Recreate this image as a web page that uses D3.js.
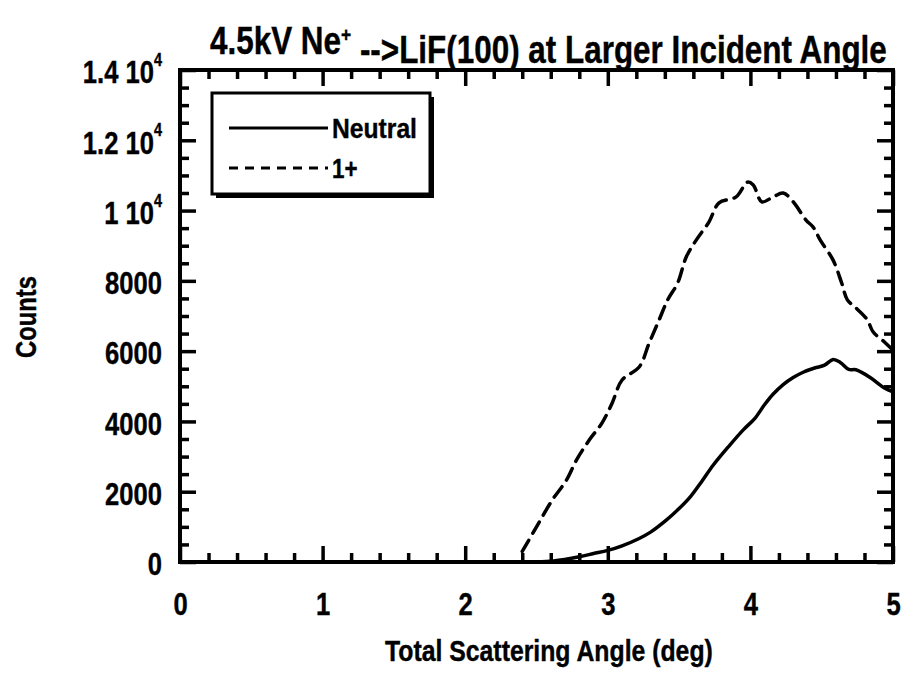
<!DOCTYPE html>
<html><head><meta charset="utf-8">
<script src="https://cdn.jsdelivr.net/npm/d3@7"></script>
<style>
body{margin:0;background:#fff}
text{font-family:"Liberation Sans Narrow","Arial Narrow","Liberation Sans",Arial,sans-serif;font-weight:bold;fill:#000;stroke:#000;stroke-width:0.4px}
</style>
</head><body>
<svg id="c" width="904" height="673"></svg>
<script>
// ---- data ----
const angleNeutral  = [2.50,2.62,2.80,2.90,3.00,3.10,3.22,3.30,3.41,3.50,3.58,3.66,3.74,3.85,3.95,4.03,4.10,4.16,4.23,4.30,4.37,4.45,4.52,4.58,4.63,4.69,4.74,4.84,4.94,5.00];
const countsNeutral = [0,30,150,240,330,460,670,850,1190,1520,1860,2300,2760,3300,3760,4080,4480,4780,5050,5250,5400,5520,5600,5760,5680,5480,5470,5250,4950,4840];
const angleIon  = [2.40,2.50,2.61,2.71,2.78,2.87,2.96,3.03,3.10,3.22,3.29,3.36,3.42,3.49,3.55,3.62,3.71,3.78,3.90,3.98,4.02,4.08,4.16,4.23,4.30,4.39,4.44,4.49,4.58,4.64,4.68,4.74,4.82,4.86,4.94,5.00];
const countsIon = [300,1000,1760,2330,2900,3470,3960,4520,5180,5550,6230,6890,7460,7940,8680,9160,9680,10220,10390,10810,10730,10250,10390,10500,10250,9730,9530,9160,8590,7940,7460,7230,6890,6550,6260,6030];
const seriesNames = ["Neutral","1+"];
const xTickValues = [0,1,2,3,4,5];
const xTickLabels = ["0","1","2","3","4","5"];
const yTickValues = [0,2000,4000,6000,8000,10000,12000,14000];
const yTickLabels = ["0","2000","4000","6000","8000","1 10","1.2 10","1.4 10"];
const yTickExps   = ["","","","","","4","4","4"];
const titleMain = "4.5kV Ne";
const titleSup = "+";
const titleRest = " -->LiF(100) at Larger Incident Angle";
const xTitle = "Total Scattering Angle (deg)";
const yTitle = "Counts";

// ---- layout ----
const L = 180, R = 893, T = 70, B = 562;
const SX = 0.8;
const svg = d3.select("#c");
const x = d3.scaleLinear().domain([0,5]).range([L,R]);
const y = d3.scaleLinear().domain([0,14000]).range([B,T]);

// condense a text element horizontally around its anchor point
function narrow(t, sx, targetW){
  const tx = +t.attr("x")||0, ty = +t.attr("y")||0;
  let s = sx;
  if (targetW) s = targetW / t.node().getComputedTextLength();
  t.attr("x",0).attr("y",0).attr("transform",`translate(${tx},${ty}) scale(${s},1)`);
  return t;
}

const minorX = d3.range(0,5.001,0.2).filter(v=>Math.abs(v-Math.round(v))>1e-6);
const minorY = d3.range(0,14001,500).filter(v=>v%2000!==0);

function styleAxis(g){
  g.select(".domain").remove();
  g.selectAll(".tick line").attr("stroke","#000").attr("stroke-width",3.5);
}
const MAJ=-16, MIN=-9;
// bottom
svg.append("g").attr("transform",`translate(0,${B})`)
  .call(d3.axisBottom(x).tickValues(xTickValues).tickSize(MAJ).tickPadding(30).tickFormat((d,i)=>xTickLabels[i]))
  .call(styleAxis)
  .call(g=>g.selectAll("text").attr("font-size",32).attr("fill","#000").each(function(){narrow(d3.select(this),SX);}));
svg.append("g").attr("transform",`translate(0,${B})`)
  .call(d3.axisBottom(x).tickValues(minorX).tickSize(MIN).tickFormat(""))
  .call(styleAxis);
// top
svg.append("g").attr("transform",`translate(0,${T})`)
  .call(d3.axisTop(x).tickValues(xTickValues).tickSize(MAJ).tickFormat(""))
  .call(styleAxis);
svg.append("g").attr("transform",`translate(0,${T})`)
  .call(d3.axisTop(x).tickValues(minorX).tickSize(MIN).tickFormat(""))
  .call(styleAxis);
// left
svg.append("g").attr("transform",`translate(${L},0)`)
  .call(d3.axisLeft(y).tickValues(yTickValues).tickSize(MAJ).tickPadding(18).tickFormat(""))
  .call(styleAxis)
  .call(g=>g.selectAll(".tick").each(function(d,i){
     const t = d3.select(this).select("text").attr("font-size",32).attr("fill","#000").attr("dy","0.40em");
     t.text(null);
     t.append("tspan").text(yTickLabels[i]);
     if(yTickExps[i]) t.append("tspan").attr("font-size",18).attr("dy","-0.95em").text(yTickExps[i]);
     narrow(t,SX);
  }));
svg.append("g").attr("transform",`translate(${L},0)`)
  .call(d3.axisLeft(y).tickValues(minorY).tickSize(MIN).tickFormat(""))
  .call(styleAxis);
// right
svg.append("g").attr("transform",`translate(${R},0)`)
  .call(d3.axisRight(y).tickValues(yTickValues).tickSize(MAJ).tickFormat(""))
  .call(styleAxis);
svg.append("g").attr("transform",`translate(${R},0)`)
  .call(d3.axisRight(y).tickValues(minorY).tickSize(MIN).tickFormat(""))
  .call(styleAxis);

// frame
svg.append("rect").attr("x",L).attr("y",T).attr("width",R-L).attr("height",B-T)
  .attr("fill","none").attr("stroke","#000").attr("stroke-width",4);

// curves
const lineSmooth = d3.line().curve(d3.curveCatmullRom.alpha(0.5)).x(d=>x(d[0])).y(d=>y(d[1]));
const neutral = angleNeutral.map((a,i)=>[a,countsNeutral[i]]);
const ion = angleIon.map((a,i)=>[a,countsIon[i]]);
svg.append("path").datum(neutral).attr("d",lineSmooth).attr("fill","none")
  .attr("stroke","#000").attr("stroke-width",3.5).attr("stroke-linejoin","round");
svg.append("path").datum(ion).attr("d",lineSmooth).attr("fill","none")
  .attr("stroke","#000").attr("stroke-width",3.5).attr("stroke-dasharray","13,8").attr("stroke-linecap","round");

// legend
const lg = svg.append("g");
lg.append("rect").attr("x",216).attr("y",97).attr("width",218).attr("height",101).attr("fill","#000");
lg.append("rect").attr("x",212).attr("y",93).attr("width",218).attr("height",101)
  .attr("fill","#fff").attr("stroke","#000").attr("stroke-width",3);
lg.append("line").attr("x1",229).attr("x2",328).attr("y1",128).attr("y2",128)
  .attr("stroke","#000").attr("stroke-width",3);
lg.append("line").attr("x1",229).attr("x2",328).attr("y1",168).attr("y2",168)
  .attr("stroke","#000").attr("stroke-width",3).attr("stroke-dasharray","9,7");
narrow(lg.append("text").attr("x",332).attr("y",138).attr("font-size",28).text(seriesNames[0]),0,85);
narrow(lg.append("text").attr("x",332).attr("y",178).attr("font-size",28).text(seriesNames[1]),SX);

// titles
const tt = svg.append("text").attr("x",210).attr("y",54).attr("font-size",38);
tt.append("tspan").text(titleMain);
tt.append("tspan").attr("dy","-0.55em").attr("font-size",21).text(titleSup);
tt.append("tspan").attr("dy","0.55em").text(titleRest);
narrow(tt,0,677);

narrow(svg.append("text").attr("x",385).attr("y",661).attr("font-size",29).text(xTitle),0,328);
svg.append("text").attr("transform","translate(36,317) rotate(-90) scale(0.82,1)").attr("text-anchor","middle")
  .attr("font-size",29).text(yTitle);
</script>
</body></html>
